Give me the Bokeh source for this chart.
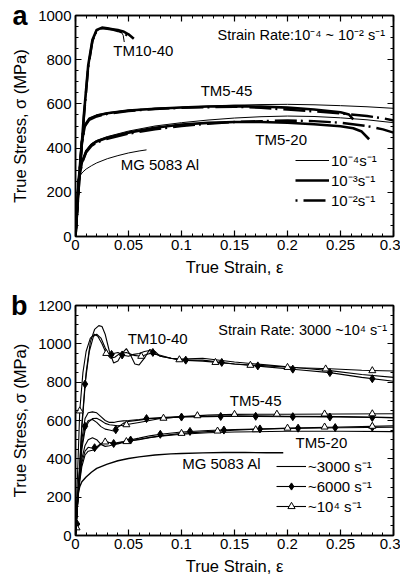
import numpy as np
from bokeh.plotting import figure
from bokeh.layouts import column
from bokeh.models import (Range1d, FixedTicker, LinearAxis, CustomJSTickFormatter,
                          Label, Legend, LegendItem, CustomLabelingPolicy)
from bokeh.embed import file_html
from bokeh.resources import INLINE

FONT = "Liberation Sans"

# ---------------- Panel a: quasi-static (10^-4 ~ 10^-2 s^-1) ----------------
a_tm1040_x4 = [0, 0.004, 0.008, 0.012, 0.016, 0.02, 0.025, 0.03, 0.035, 0.04, 0.043, 0.045, 0.046]
a_tm1040_y4 = [0, 280, 540, 760, 880, 930, 942, 940, 937, 933, 928, 910, 880]
a_tm1040_x3 = [0, 0.004, 0.008, 0.012, 0.016, 0.02, 0.025, 0.03, 0.035, 0.04, 0.045, 0.05, 0.055]
a_tm1040_y3 = [0, 290, 555, 775, 890, 935, 945, 942, 938, 934, 928, 915, 895]
a_tm1040_x2 = [0, 0.004, 0.008, 0.012, 0.016, 0.02, 0.025, 0.03, 0.035, 0.04, 0.045, 0.05]
a_tm1040_y2 = [0, 285, 545, 765, 885, 932, 943, 940, 936, 930, 922, 905]

a_tm545_x4 = [0, 0.003, 0.006, 0.009, 0.013, 0.02, 0.03, 0.05, 0.075, 0.1, 0.125, 0.15, 0.175, 0.2, 0.225, 0.25, 0.275, 0.3]
a_tm545_y4 = [0, 250, 430, 505, 535, 550, 560, 572, 580, 585, 590, 594, 597, 598, 596, 592, 587, 580]
a_tm545_x3 = [0, 0.003, 0.006, 0.009, 0.013, 0.02, 0.03, 0.05, 0.075, 0.1, 0.125, 0.15, 0.175, 0.2, 0.225, 0.25, 0.258, 0.262]
a_tm545_y3 = [0, 250, 430, 505, 533, 547, 558, 570, 578, 584, 588, 590, 588, 583, 575, 562, 552, 530]
a_tm545_x2 = [0, 0.003, 0.006, 0.009, 0.013, 0.02, 0.03, 0.05, 0.075, 0.1, 0.125, 0.15, 0.175, 0.2, 0.225, 0.25, 0.275, 0.29, 0.3]
a_tm545_y2 = [0, 250, 425, 500, 528, 543, 555, 568, 577, 582, 585, 587, 582, 574, 566, 557, 545, 535, 525]

a_tm520_x4 = [0, 0.003, 0.006, 0.01, 0.015, 0.02, 0.03, 0.05, 0.075, 0.1, 0.125, 0.15, 0.175, 0.2, 0.225, 0.25, 0.275, 0.3]
a_tm520_y4 = [0, 250, 340, 390, 420, 435, 452, 477, 500, 515, 527, 536, 542, 545, 543, 537, 528, 515]
a_tm520_x3 = [0, 0.003, 0.006, 0.01, 0.015, 0.02, 0.03, 0.05, 0.075, 0.1, 0.125, 0.15, 0.175, 0.2, 0.225, 0.25, 0.262, 0.27, 0.277]
a_tm520_y3 = [0, 250, 335, 385, 415, 430, 447, 470, 492, 507, 514, 518, 518, 515, 508, 499, 490, 475, 440]
a_tm520_x2 = [0, 0.003, 0.006, 0.01, 0.015, 0.02, 0.03, 0.05, 0.075, 0.1, 0.125, 0.15, 0.175, 0.2, 0.225, 0.25, 0.275, 0.29, 0.3]
a_tm520_y2 = [0, 250, 330, 380, 410, 425, 442, 465, 485, 500, 510, 518, 522, 525, 522, 515, 500, 485, 470]

a_mg_x = [0, 0.002, 0.004, 0.007, 0.01, 0.015, 0.02, 0.03, 0.04, 0.05, 0.06, 0.067]
a_mg_y = [0, 250, 275, 292, 305, 320, 333, 352, 366, 378, 387, 392]

a_legend_labels = ["10⁻⁴s⁻¹", "10⁻³s⁻¹", "10⁻²s⁻¹"]

# ---------------- Panel b: dynamic (3000 ~ 10^4 s^-1) ----------------
b_tm1040_x1 = [0, 0.003, 0.006, 0.01, 0.014, 0.018, 0.022, 0.025, 0.028, 0.032, 0.036, 0.04, 0.044, 0.048, 0.052,
               0.056, 0.06, 0.065, 0.07, 0.075, 0.08, 0.09, 0.1, 0.12, 0.15, 0.18, 0.21, 0.24, 0.27, 0.3]
b_tm1040_y1 = [0, 250, 560, 850, 1010, 1075, 1095, 1090, 1050, 960, 900, 910, 950, 975, 940,
               895, 890, 925, 970, 960, 935, 925, 920, 925, 905, 890, 875, 860, 840, 825]
b_tm1040_x2 = [0, 0.003, 0.006, 0.009, 0.013, 0.017, 0.02, 0.024, 0.028, 0.032, 0.036, 0.04, 0.045, 0.05, 0.055,
               0.06, 0.065, 0.07, 0.075, 0.08, 0.09, 0.1, 0.12, 0.15, 0.18, 0.21, 0.24, 0.27, 0.3]
b_tm1040_y2 = [0, 280, 580, 790, 960, 1040, 1050, 1030, 980, 935, 950, 955, 940, 935, 945,
               950, 960, 965, 950, 935, 925, 915, 915, 895, 880, 865, 850, 825, 805]
b_tm1040_mx2 = [0.0015, 0.009, 0.034, 0.044, 0.073, 0.104, 0.138, 0.172, 0.205, 0.24, 0.28]
b_tm1040_my2 = [60, 790, 945, 942, 955, 915, 903, 885, 868, 850, 818]
b_tm1040_x3 = [0, 0.002, 0.004, 0.007, 0.01, 0.014, 0.018, 0.021, 0.025, 0.029, 0.033, 0.037, 0.042, 0.048,
               0.055, 0.062, 0.07, 0.08, 0.09, 0.1, 0.12, 0.15, 0.18, 0.21, 0.24, 0.27, 0.3]
b_tm1040_y3 = [0, 330, 650, 850, 960, 1030, 1050, 1040, 1000, 950, 925, 930, 950, 955,
               940, 935, 950, 940, 925, 915, 910, 895, 885, 875, 870, 862, 858]
b_tm1040_mx3 = [0.001, 0.004, 0.029, 0.062, 0.098, 0.132, 0.165, 0.2, 0.236, 0.28]
b_tm1040_my3 = [40, 650, 950, 935, 917, 903, 888, 877, 869, 860]

b_tm5_x = [0, 0.003, 0.006, 0.009, 0.012, 0.016, 0.02, 0.024, 0.028, 0.032, 0.036, 0.04, 0.045, 0.05,
           0.06, 0.07, 0.08, 0.1, 0.125, 0.15, 0.2, 0.25, 0.3]
b_tm545_y1 = [0, 280, 500, 610, 640, 645, 640, 620, 600, 590, 590, 595, 598, 600, 605, 612, 615, 620, 622, 625, 622, 620, 615]
b_tm545_y2 = [0, 260, 470, 570, 600, 605, 590, 568, 555, 550, 545, 565, 585, 595, 602, 610, 612, 618, 620, 622, 620, 618, 615]
b_tm545_mx2 = [0.009, 0.038, 0.067, 0.1, 0.137, 0.17, 0.205, 0.24, 0.28]
b_tm545_my2 = [570, 552, 610, 618, 621, 622, 620, 618, 616]
b_tm545_y3 = [0, 250, 450, 550, 590, 610, 612, 600, 585, 578, 575, 572, 575, 580, 590, 600, 610, 620, 628, 632, 633, 634, 635]
b_tm545_mx3 = [0.048, 0.083, 0.115, 0.15, 0.19, 0.235, 0.28]
b_tm545_my3 = [578, 612, 625, 632, 633, 634, 635]

b_tm520_y1 = [0, 260, 400, 470, 500, 510, 500, 475, 465, 468, 475, 482, 488, 493, 500, 510, 518, 528, 536, 540, 544, 544, 542]
b_tm520_y2 = [0, 250, 380, 440, 460, 455, 462, 480, 490, 485, 480, 485, 490, 497, 508, 520, 528, 540, 548, 553, 558, 562, 565]
b_tm520_mx2 = [0.018, 0.036, 0.052, 0.08, 0.108, 0.14, 0.174, 0.21, 0.245, 0.28]
b_tm520_my2 = [458, 480, 498, 528, 543, 550, 556, 560, 563, 565]
b_tm520_y3 = [0, 240, 360, 420, 440, 445, 455, 475, 488, 485, 475, 478, 485, 492, 502, 512, 520, 533, 542, 550, 560, 566, 572]
b_tm520_mx3 = [0.028, 0.048, 0.1, 0.134, 0.17, 0.2, 0.235, 0.28]
b_tm520_my3 = [488, 490, 533, 545, 552, 560, 566, 570]

b_mg_x = [0, 0.002, 0.004, 0.006, 0.01, 0.015, 0.02, 0.03, 0.04, 0.05, 0.06, 0.075, 0.09, 0.1, 0.12, 0.14, 0.16, 0.18, 0.196]
b_mg_y = [0, 200, 255, 280, 305, 330, 350, 372, 390, 402, 410, 420, 426, 428, 431, 433, 433, 432, 432]

b_legend_labels = ["~3000 s⁻¹", "~6000 s⁻¹", "~10⁴ s⁻¹"]

x_ticks = [0, 0.05, 0.1, 0.15, 0.2, 0.25, 0.3]

DASH = "2 6 22 4"
NO_LABELS_JS = ("if (indices && typeof indices.unset === 'function') {"
                " for (let i = 0; i < indices.size; i++) { indices.unset(i) } }"
                " return indices")


def style(p, ymax, ymajor, panel_letter):
    x_minor = list(np.round(np.arange(0, 0.3001, 0.01), 3))
    y_ticks = list(range(0, ymax + 1, ymajor))
    y_minor = list(range(0, ymax + 1, 50))
    fmt = CustomJSTickFormatter(code="var s = tick.toFixed(2); s = s.replace(/0+$/, ''); return s.replace(/\\.$/, '');")
    xa = p.xaxis[0]
    ya = p.yaxis[0]
    xa.ticker = FixedTicker(ticks=x_ticks, minor_ticks=x_minor)
    xa.formatter = fmt
    ya.ticker = FixedTicker(ticks=y_ticks, minor_ticks=y_minor)
    top = LinearAxis(ticker=FixedTicker(ticks=x_ticks, minor_ticks=x_minor),
                     major_label_text_font_size="0px", major_label_standoff=0,
                     major_label_policy=CustomLabelingPolicy(code=NO_LABELS_JS))
    right = LinearAxis(ticker=FixedTicker(ticks=y_ticks, minor_ticks=y_minor),
                       major_label_text_font_size="0px", major_label_standoff=0,
                       major_label_policy=CustomLabelingPolicy(code=NO_LABELS_JS))
    p.add_layout(top, "above")
    p.add_layout(right, "right")
    for ax in [xa, ya, top, right]:
        ax.major_tick_in = 6
        ax.major_tick_out = 0
        ax.minor_tick_in = 3
        ax.minor_tick_out = 0
        ax.axis_line_color = "black"
        ax.axis_line_width = 1.5
        ax.major_tick_line_color = "black"
        ax.minor_tick_line_color = "black"
        ax.major_tick_line_width = 1.2
    for ax in [xa, ya]:
        ax.major_label_text_font = FONT
        ax.major_label_text_font_size = "15px"
        ax.major_label_text_color = "black"
        ax.axis_label_text_font = FONT
        ax.axis_label_text_font_size = "16.5px"
        ax.axis_label_text_font_style = "normal"
        ax.axis_label_text_color = "black"
    xa.major_label_standoff = 3
    xa.axis_label_standoff = 5
    ya.major_label_standoff = 4
    ya.axis_label_standoff = 6
    xa.axis_label = "True Strain, ε"
    ya.axis_label = "True Stress, σ (MPa)"
    # outer left axis carrying only the bold panel letter at the top of the y axis
    letter = LinearAxis(ticker=FixedTicker(ticks=[ymax], minor_ticks=[]),
                        major_label_overrides={ymax: panel_letter},
                        axis_line_color=None, major_tick_line_color=None, minor_tick_line_color=None,
                        major_tick_in=0, major_tick_out=0, minor_tick_in=0, minor_tick_out=0,
                        major_label_text_font=FONT, major_label_text_font_size="27px",
                        major_label_text_font_style="bold", major_label_text_color="black",
                        major_label_standoff=-19)
    p.add_layout(letter, "left")
    p.xgrid.visible = False
    p.ygrid.visible = False
    p.outline_line_color = "black"
    p.outline_line_width = 1.5


def text(p, x, y, t, align="center", size="15px"):
    p.add_layout(Label(x=x, y=y, text=t, text_font=FONT, text_font_size=size,
                       text_align=align, text_baseline="middle", text_color="black"))


# ---------- figure a ----------
pa = figure(width=400, height=290, output_backend="svg", toolbar_location=None,
            x_range=Range1d(0, 0.3), y_range=Range1d(0, 1000),
            min_border_left=75, min_border_right=7, min_border_top=15, min_border_bottom=54)
style(pa, 1000, 200, "a")

thin = dict(line_color="black", line_width=1)
bold = dict(line_color="black", line_width=2.6)
dash = dict(line_color="black", line_width=2.4, line_dash=DASH)

r4 = pa.line(a_tm1040_x4, a_tm1040_y4, **thin)
r3 = pa.line(a_tm1040_x3, a_tm1040_y3, **bold)
r2 = pa.line(a_tm1040_x2, a_tm1040_y2, **dash)
pa.line(a_tm545_x4, a_tm545_y4, **thin)
pa.line(a_tm545_x3, a_tm545_y3, **bold)
pa.line(a_tm545_x2, a_tm545_y2, **dash)
pa.line(a_tm520_x4, a_tm520_y4, **thin)
pa.line(a_tm520_x3, a_tm520_y3, **bold)
pa.line(a_tm520_x2, a_tm520_y2, **dash)
pa.line(a_mg_x, a_mg_y, **thin)

leg_a = Legend(items=[LegendItem(label=a_legend_labels[0], renderers=[r4]),
                      LegendItem(label=a_legend_labels[1], renderers=[r3]),
                      LegendItem(label=a_legend_labels[2], renderers=[r2])],
               location=(220, 26), glyph_width=34, glyph_height=18, label_height=18,
               label_standoff=2, spacing=0, padding=0, margin=0,
               border_line_color=None, background_fill_alpha=0,
               label_text_font=FONT, label_text_font_size="15px", label_text_color="black")
pa.add_layout(leg_a, "center")

text(pa, 0.064, 842, "TM10-40")
text(pa, 0.1425, 662, "TM5-45")
text(pa, 0.194, 440, "TM5-20")
text(pa, 0.08, 326, "MG 5083 Al")
text(pa, 0.292, 910, "Strain Rate:10⁻⁴ ~ 10⁻² s⁻¹", align="right", size="14.5px")

# ---------- figure b ----------
pb = figure(width=400, height=289, output_backend="svg", toolbar_location=None,
            x_range=Range1d(0, 0.3), y_range=Range1d(0, 1200),
            min_border_left=75, min_border_right=7, min_border_top=15, min_border_bottom=44)
style(pb, 1200, 200, "b")

lw = dict(line_color="black", line_width=1.1)
dm = dict(marker="diamond", size=8, fill_color="black", line_color="black")
tr = dict(marker="triangle", size=7, fill_color="white", line_color="black", line_width=1)

s1 = pb.line(b_tm1040_x1, b_tm1040_y1, **lw)
s2 = pb.line(b_tm1040_x2, b_tm1040_y2, **lw)
m2 = pb.scatter(b_tm1040_mx2, b_tm1040_my2, **dm)
s3 = pb.line(b_tm1040_x3, b_tm1040_y3, **lw)
m3 = pb.scatter(b_tm1040_mx3, b_tm1040_my3, **tr)

pb.line(b_tm5_x, b_tm545_y1, **lw)
pb.line(b_tm5_x, b_tm545_y2, **lw)
pb.scatter(b_tm545_mx2, b_tm545_my2, **dm)
pb.line(b_tm5_x, b_tm545_y3, **lw)
pb.scatter(b_tm545_mx3, b_tm545_my3, **tr)

pb.line(b_tm5_x, b_tm520_y1, **lw)
pb.line(b_tm5_x, b_tm520_y2, **lw)
pb.scatter(b_tm520_mx2, b_tm520_my2, **dm)
pb.line(b_tm5_x, b_tm520_y3, **lw)
pb.scatter(b_tm520_mx3, b_tm520_my3, **tr)

pb.line(b_mg_x, b_mg_y, line_color="black", line_width=1.4)

leg_b = Legend(items=[LegendItem(label=b_legend_labels[0], renderers=[s1]),
                      LegendItem(label=b_legend_labels[1], renderers=[s2, m2]),
                      LegendItem(label=b_legend_labels[2], renderers=[s3, m3])],
               location=(201, 19), glyph_width=30, glyph_height=18, label_height=18,
               label_standoff=2, spacing=0, padding=0, margin=0,
               border_line_color=None, background_fill_alpha=0,
               label_text_font=FONT, label_text_font_size="15px", label_text_color="black")
pb.add_layout(leg_b, "center")

text(pb, 0.0775, 1028, "TM10-40")
text(pb, 0.17, 703, "TM5-45")
text(pb, 0.232, 483, "TM5-20")
text(pb, 0.138, 374, "MG 5083 Al")
text(pb, 0.294, 1072, "Strain Rate: 3000 ~10⁴ s⁻¹", align="right", size="14.5px")

layout = column(pa, pb, spacing=0)
open("out.html", "w").write(file_html(layout, INLINE))
